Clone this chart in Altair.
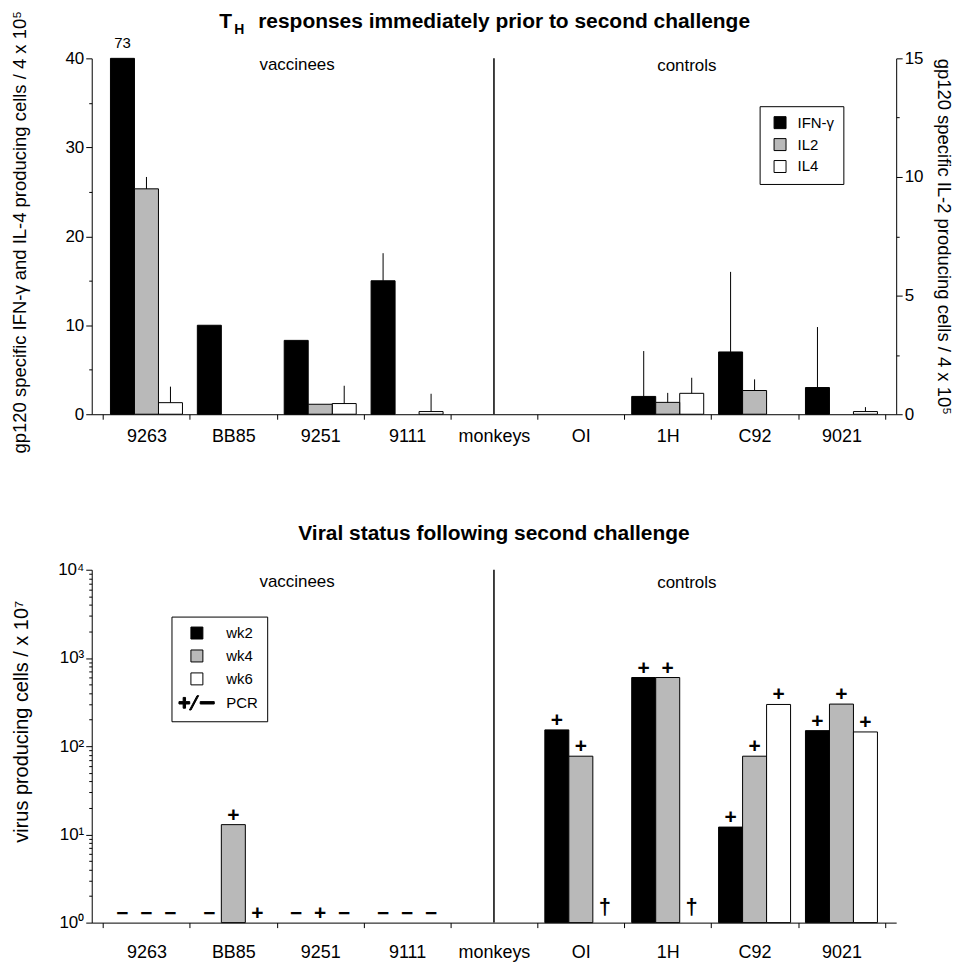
import altair as alt
import pandas as pd

FONT = "Liberation Sans"

monkeys = ["9263", "BB85", "9251", "9111", "monkeys", "OI", "1H", "C92", "9021"]
cytokines = ["IFN-γ", "IL2", "IL4"]
weeks = ["wk2", "wk4", "wk6"]
legend_weeks = ["wk2", "wk4", "wk6", "PCR"]

# ---- top panel: T_H responses (IFN-γ / IL4 on left axis, IL2 on right axis)
ifn = [73, 10, 8.3, 15, 0, 0, 2.0, 7.0, 3.0]
ifn_err = [None, None, None, 18.1, None, None, 7.1, 16.0, 9.8]
il2 = [9.5, 0, 0.42, 0, 0, 0, 0.5, 1.0, 0]
il2_err = [10.0, None, None, None, None, None, 0.9, 1.47, None]
il4 = [1.3, 0, 1.2, 0.3, 0, 0, 2.35, 0, 0.3]
il4_err = [3.1, None, 3.2, 2.3, None, None, 4.1, None, 0.8]

# ---- bottom panel: viral status (log scale)
wk2 = [0, 0, 0, 0, 0, 153, 600, 12.1, 150]
wk4 = [0, 12.9, 0, 0, 0, 77, 600, 77, 300]
wk6 = [0, 0, 0, 0, 0, 0, 0, 297, 145]
pcr_wk2 = ["−", "−", "−", "−", "", "+", "+", "+", "+"]
pcr_wk4 = ["−", "+", "+", "−", "", "+", "+", "+", "+"]
pcr_wk6 = ["−", "+", "−", "−", "", "†", "†", "+", "+"]

top_left_df = pd.DataFrame({
    "monkey": monkeys * 2,
    "cytokine": ["IFN-γ"] * 9 + ["IL4"] * 9,
    "v": ifn + il4,
    "err": ifn_err + il4_err,
})
top_right_df = pd.DataFrame({
    "monkey": monkeys,
    "cytokine": ["IL2"] * 9,
    "v": il2,
    "err": il2_err,
})
bottom_df = pd.DataFrame({
    "monkey": monkeys * 3,
    "week": ["wk2"] * 9 + ["wk4"] * 9 + ["wk6"] * 9,
    "v": wk2 + wk4 + wk6,
    "pcr": pcr_wk2 + pcr_wk4 + pcr_wk6,
})

W = 807
H_TOP = 357
H_BOT = 354
TITLE_SIZE = 18.5


def xenc(label_pad, field="monkey:N"):
    return alt.X(
        field, sort=monkeys,
        scale=alt.Scale(domain=monkeys, paddingInner=0, paddingOuter=0.13),
        axis=alt.Axis(title=None, labelAngle=0, tickBand="extent", labelFont=FONT,
                      labelFontSize=18, labelColor="black", tickColor="black",
                      domainColor="black", tickSize=5, labelPadding=label_pad),
    )


TOP_PAD = 8
BOT_PAD = 16

xo_top = alt.XOffset("cytokine:N", scale=alt.Scale(domain=cytokines, paddingInner=0, paddingOuter=0.31))
xo_bot = alt.XOffset("week:N", scale=alt.Scale(domain=weeks, paddingInner=0, paddingOuter=0.31))

fill_top = alt.Fill(
    "cytokine:N",
    scale=alt.Scale(domain=cytokines, range=["black", "#b9b9b9", "white"]),
    legend=alt.Legend(orient="none", legendX=670, legendY=48, title=None,
                      strokeColor="black", fillColor="white", padding=9,
                      symbolType="square", symbolSize=144, symbolStrokeColor="black",
                      symbolStrokeWidth=1, symbolOffset=4, labelOffset=10,
                      labelFont=FONT, labelFontSize=15, labelColor="black", rowPadding=5),
)

y_left_axis = alt.Axis(
    title="gp120 specific IFN-γ and IL-4 producing cells / 4 x 10⁵",
    values=list(range(0, 41, 5)),
    labelExpr="datum.value % 10 == 0 ? datum.label : ''",
    tickSize={"condition": {"test": "datum.value % 10 == 0", "value": 6}, "value": 3},
    grid=False, orient="left", labelFont=FONT, labelFontSize=17, labelPadding=2,
    titleFont=FONT, titleFontSize=TITLE_SIZE, titleFontWeight="normal", titlePadding=36,
    titleY=174,
    labelColor="black", titleColor="black", tickColor="black", domainColor="black",
)
y_left = alt.Y("vbar:Q", scale=alt.Scale(domain=[0, 40], nice=False), axis=y_left_axis)

base_left = alt.Chart(top_left_df).transform_calculate(vbar="min(datum.v, 40)")
bars_left = base_left.transform_filter("datum.v > 0").mark_bar(stroke="black", strokeWidth=1).encode(
    x=xenc(TOP_PAD), xOffset=xo_top, y=y_left, fill=fill_top)
err_left = base_left.transform_filter("isValid(datum.err)").mark_rule(color="black", strokeWidth=1).encode(
    x=xenc(TOP_PAD), xOffset=xo_top, y=y_left, y2="err:Q")
lbl73 = base_left.transform_filter("datum.v > 40").mark_text(
    baseline="bottom", dy=-7, font=FONT, fontSize=15, color="black").encode(
    x=xenc(TOP_PAD), xOffset=xo_top, y=y_left, text="v:Q")

divider_top = alt.Chart(pd.DataFrame({"m": ["monkeys"]})).mark_rule(color="black", strokeWidth=1.5).encode(
    x=xenc(TOP_PAD, "m:N"))

ann = pd.DataFrame({"t": ["vaccinees"]})
ann2 = pd.DataFrame({"t": ["controls"]})
vacc_top = alt.Chart(ann).mark_text(font=FONT, fontSize=17, color="black", baseline="middle").encode(
    x=alt.value(206), y=alt.value(7), text="t:N")
ctrl_top = alt.Chart(ann2).mark_text(font=FONT, fontSize=17, color="black", baseline="middle").encode(
    x=alt.value(597), y=alt.value(8), text="t:N")

t_T = alt.Chart(pd.DataFrame({"t": ["T"]})).mark_text(
    font=FONT, fontSize=21, fontWeight="bold", align="left", baseline="alphabetic", color="black").encode(
    x=alt.value(128), y=alt.value(-30), text="t:N")
t_H = alt.Chart(pd.DataFrame({"t": ["H"]})).mark_text(
    font=FONT, fontSize=14, fontWeight="bold", align="left", baseline="alphabetic", color="black").encode(
    x=alt.value(143), y=alt.value(-24), text="t:N")
t_rest = alt.Chart(pd.DataFrame({"t": ["responses immediately prior to second challenge"]})).mark_text(
    font=FONT, fontSize=21, fontWeight="bold", align="left", baseline="alphabetic", color="black").encode(
    x=alt.value(167), y=alt.value(-30), text="t:N")

y_right_axis = alt.Axis(
    title="gp120 specific IL-2 producing cells / 4 x 10⁵",
    values=[0, 2.5, 5, 7.5, 10, 12.5, 15],
    labelExpr="datum.value % 5 == 0 ? datum.label : ''",
    tickSize={"condition": {"test": "datum.value % 5 == 0", "value": 6}, "value": 3},
    grid=False, orient="right", labelFont=FONT, labelFontSize=17, labelPadding=2,
    titleFont=FONT, titleFontSize=TITLE_SIZE, titleFontWeight="normal", titlePadding=11,
    labelColor="black", titleColor="black", tickColor="black", domainColor="black",
)
y_right = alt.Y("v:Q", scale=alt.Scale(domain=[0, 15], nice=False), axis=y_right_axis)
bars_right = alt.Chart(top_right_df).transform_filter("datum.v > 0").mark_bar(stroke="black", strokeWidth=1).encode(
    x=xenc(TOP_PAD), xOffset=xo_top, y=y_right, fill=fill_top)
err_right = alt.Chart(top_right_df).transform_filter("isValid(datum.err)").mark_rule(color="black", strokeWidth=1).encode(
    x=xenc(TOP_PAD), xOffset=xo_top, y=y_right, y2="err:Q")

top = alt.layer(
    alt.layer(bars_left, err_left, lbl73, divider_top, vacc_top, ctrl_top, t_T, t_H, t_rest),
    alt.layer(bars_right, err_right),
).resolve_scale(y="independent").properties(width=W, height=H_TOP)

# ---- bottom
PCR_PATH = ("M-3,-0.2 L-2.3,-0.2 L-2.3,-0.9 L-1.9,-0.9 L-1.9,-0.2 L-1.2,-0.2 L-1.2,0.2 "
            "L-1.9,0.2 L-1.9,0.9 L-2.3,0.9 L-2.3,0.2 L-3,0.2 Z "
            "M-1.25,1.2 L-0.98,1.2 L0.3,-1.2 L0.03,-1.2 Z "
            "M0.55,-0.2 L2.9,-0.2 L2.9,0.2 L0.55,0.2 Z")

bot_legend = alt.Legend(orient="none", legendX=80, legendY=47, title=None,
                        strokeColor="black", fillColor="white", padding=9,
                        symbolSize=144, symbolStrokeColor="black", symbolStrokeWidth=1,
                        symbolOffset=9, labelOffset=22, labelFont=FONT, labelFontSize=15,
                        labelColor="black", rowPadding=6)
fill_bot = alt.Fill("week:N", scale=alt.Scale(domain=legend_weeks,
                                              range=["black", "#b9b9b9", "white", "black"]),
                    legend=bot_legend)
shape_bot = alt.Shape("week:N", scale=alt.Scale(domain=legend_weeks,
                                                range=["square", "square", "square", PCR_PATH]),
                      legend=bot_legend)

log_ticks = [m * 10 ** e for e in range(4) for m in range(1, 10)] + [10000]
decade_test = "abs(log(datum.value)/LN10 - round(log(datum.value)/LN10)) < 0.0001"
y_bot_axis = alt.Axis(
    title="virus producing cells / x 10⁷",
    values=log_ticks,
    labelExpr="(" + decade_test + ") ? '10' + ['⁰','¹','²','³','⁴'][round(log(datum.value)/LN10)] : ''",
    tickSize={"condition": {"test": decade_test, "value": 6}, "value": 3},
    grid=False, orient="left", labelFont=FONT, labelFontSize=17, labelPadding=2,
    titleFont=FONT, titleFontSize=20, titleFontWeight="normal", titlePadding=26,
    titleY=152,
    labelColor="black", titleColor="black", tickColor="black", domainColor="black",
)
y_bot_scale = alt.Scale(type="log", domain=[1, 10000], nice=False)

base_b = alt.Chart(bottom_df)
bars_b = base_b.transform_filter("datum.v > 0").mark_bar(stroke="black", strokeWidth=1).encode(
    x=xenc(BOT_PAD), xOffset=xo_bot,
    y=alt.Y("v:Q", scale=y_bot_scale, axis=y_bot_axis), y2=alt.Y2(datum=1), fill=fill_bot)
marks_pm = base_b.transform_calculate(ytop="max(datum.v, 1)").transform_filter(
    "datum.pcr == '+' || datum.pcr == '−'").mark_text(
    baseline="bottom", dy=1, font=FONT, fontSize=21, fontWeight="bold", color="black").encode(
    x=xenc(BOT_PAD), xOffset=xo_bot,
    y=alt.Y("ytop:Q", scale=y_bot_scale, axis=y_bot_axis), text="pcr:N")
marks_dag = base_b.transform_calculate(ytop="max(datum.v, 1)").transform_filter(
    "datum.pcr == '†'").mark_text(
    baseline="bottom", dy=-4, font=FONT, fontSize=22, fontWeight="bold", color="black").encode(
    x=xenc(BOT_PAD), xOffset=xo_bot,
    y=alt.Y("ytop:Q", scale=y_bot_scale, axis=y_bot_axis), text="pcr:N")
legend_pts = base_b.transform_filter("false").mark_point(
    filled=True, opacity=1, stroke="black", strokeWidth=1).encode(fill=fill_bot, shape=shape_bot)

divider_bot = alt.Chart(pd.DataFrame({"m": ["monkeys"]})).mark_rule(color="black", strokeWidth=1.5).encode(
    x=xenc(BOT_PAD, "m:N"))
vacc_bot = alt.Chart(ann).mark_text(font=FONT, fontSize=17, color="black", baseline="middle").encode(
    x=alt.value(206), y=alt.value(12), text="t:N")
ctrl_bot = alt.Chart(ann2).mark_text(font=FONT, fontSize=17, color="black", baseline="middle").encode(
    x=alt.value(597), y=alt.value(13), text="t:N")

bottom = alt.layer(bars_b, marks_pm, marks_dag, legend_pts, divider_bot, vacc_bot, ctrl_bot).properties(
    width=W, height=H_BOT,
    title=alt.Title("Viral status following second challenge", font=FONT, fontSize=21,
                    fontWeight="bold", color="black", anchor="middle", offset=17),
)

chart = alt.vconcat(top, bottom, spacing=68).resolve_scale(
    fill="independent", shape="independent", xOffset="independent"
).properties(
    padding={"left": 1, "top": 0, "right": 0, "bottom": 0}, background="white"
).configure_view(stroke="transparent")

chart.save("out.html", embed_options={"renderer": "svg", "actions": False})
